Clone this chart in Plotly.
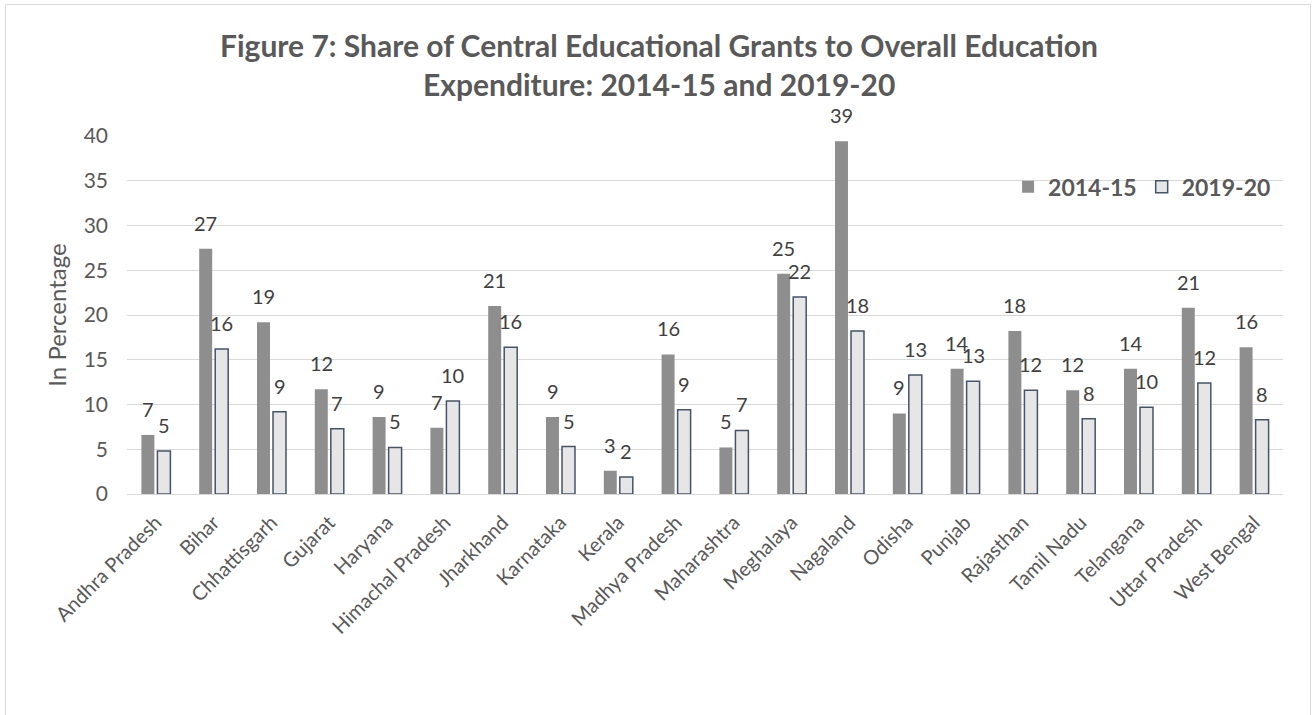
import plotly.graph_objects as go

states = [
    "Andhra Pradesh", "Bihar", "Chhattisgarh", "Gujarat", "Haryana",
    "Himachal Pradesh", "Jharkhand", "Karnataka", "Kerala", "Madhya Pradesh",
    "Maharashtra", "Meghalaya", "Nagaland", "Odisha", "Punjab",
    "Rajasthan", "Tamil Nadu", "Telangana", "Uttar Pradesh", "West Bengal",
]
share_2014_15 = [6.6, 27.4, 19.2, 11.7, 8.6, 7.4, 21.0, 8.6, 2.6, 15.6,
                 5.2, 24.6, 39.4, 9.0, 14.0, 18.2, 11.6, 14.0, 20.8, 16.4]
share_2019_20 = [4.8, 16.2, 9.2, 7.3, 5.2, 10.4, 16.4, 5.3, 1.9, 9.4,
                 7.1, 22.0, 18.2, 13.3, 12.6, 11.6, 8.4, 9.7, 12.4, 8.3]
y_ticks = [0, 5, 10, 15, 20, 25, 30, 35, 40]

FONT = "Lato"
TEXT = "#595959"
GRID = "#d9d9d9"

fig = go.Figure()
fig.add_trace(go.Bar(
    name="2014-15", x=states, y=share_2014_15,
    marker=dict(color="#8e8e8e", line=dict(width=0)),
))
fig.add_trace(go.Bar(
    name="2019-20", x=states, y=share_2019_20,
    marker=dict(color="#e7e6e6", line=dict(color="#44546a", width=1.5)),
))

# value labels above each bar, rounded to whole percent
annotations = []
for values, dx in ((share_2014_15, -8), (share_2019_20, 8)):
    for state, v in zip(states, values):
        annotations.append(dict(
            x=state, y=v, xref="x", yref="y", text=f"{v:.0f}",
            showarrow=False, xanchor="center", yanchor="bottom",
            xshift=dx, yshift=12,
            font=dict(family=FONT, size=20, color="#404040"),
        ))

# two-line chart title
for line, ypos in (("Figure 7: Share of Central Educational Grants to Overall Education", 1.253),
                   ("Expenditure: 2014-15 and 2019-20", 1.144)):
    annotations.append(dict(
        x=0.4606, y=ypos, xref="paper", yref="paper", text=f"<b>{line}</b>",
        showarrow=False, xanchor="center", yanchor="middle",
        font=dict(family=FONT, size=30, color=TEXT),
    ))

fig.update_layout(
    width=1315, height=715,
    margin=dict(l=127, r=32, t=136, b=221),
    paper_bgcolor="white", plot_bgcolor="white",
    font=dict(family=FONT, color=TEXT),
    barmode="group", bargap=0.446, bargroupgap=0.19,
    showlegend=True,
    legend=dict(
        orientation="h", x=0.994, xanchor="right", y=0.858, yanchor="middle",
        font=dict(family=FONT, size=23, color=TEXT, weight="bold"),
        bgcolor="rgba(0,0,0,0)", traceorder="normal",
    ),
    annotations=annotations,
    shapes=[dict(
        type="rect", xref="paper", yref="paper",
        x0=-0.1051, x1=1.0238, y0=-0.62, y1=1.367,
        line=dict(color=GRID, width=1), fillcolor="rgba(0,0,0,0)", layer="below",
    )],
)

fig.update_xaxes(
    tickangle=-45, tickfont=dict(family=FONT, size=20, color=TEXT),
    showline=True, linecolor=GRID, linewidth=1, showgrid=False,
    ticks="", ticklabelstandoff=8,
)
fig.update_yaxes(
    range=[0, 40], tickvals=y_ticks, showgrid=True, gridcolor=GRID, gridwidth=1,
    zeroline=False, showline=False, ticks="",
    tickfont=dict(family=FONT, size=21, color=TEXT), ticklabelstandoff=18,
    title=dict(text="In Percentage", font=dict(family=FONT, size=24, color=TEXT), standoff=10),
)

fig.write_html("out.html")
